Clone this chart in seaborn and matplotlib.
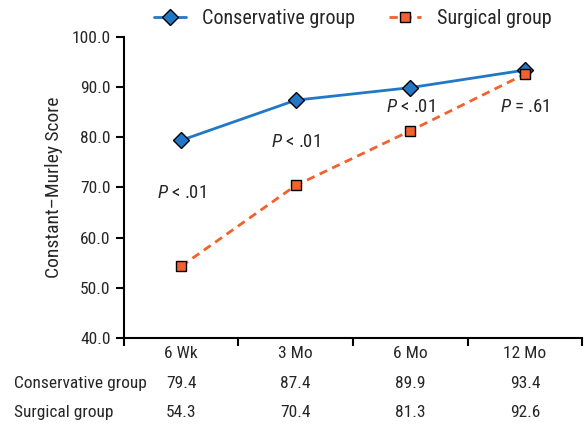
import matplotlib
matplotlib.use("Agg")
import matplotlib.pyplot as plt
import seaborn as sns
import pandas as pd
from matplotlib.lines import Line2D
from matplotlib import font_manager

timepoints = ["6 Wk", "3 Mo", "6 Mo", "12 Mo"]
conservative = [79.4, 87.4, 89.9, 93.4]
surgical = [54.3, 70.4, 81.3, 92.6]
p_labels = ["<.01", "<.01", "<.01", "=.61"]
p_y = [68.9, 79.0, 86.0, 86.0]
yticks = [40.0, 50.0, 60.0, 70.0, 80.0, 90.0, 100.0]

sns.set_style("ticks")
names = {f.name for f in font_manager.fontManager.ttflist}
fam = "DejaVu Sans"
for cand in ["Roboto Condensed", "Archivo Narrow", "PT Sans Narrow", "Asap Condensed"]:
    if cand in names:
        fam = cand
        break
plt.rcParams["font.family"] = [fam, "DejaVu Sans"]
plt.rcParams["mathtext.fontset"] = "custom"
plt.rcParams["mathtext.it"] = fam + ":italic"
plt.rcParams["mathtext.rm"] = fam

blue = "#2277C6"
orange = "#F2612E"

df = pd.DataFrame({
    "pos": list(range(len(timepoints))) * 2,
    "score": conservative + surgical,
    "group": ["Conservative group"] * 4 + ["Surgical group"] * 4,
})

fig = plt.figure(figsize=(5.84, 4.25), dpi=100)
ax = fig.add_axes([0.212, 0.2047, 0.785, 0.7083])

sns.lineplot(data=df[df.group == "Conservative group"], x="pos", y="score", ax=ax,
             color=blue, lw=2, marker="D", markersize=8, markerfacecolor=blue,
             markeredgecolor="black", markeredgewidth=1, legend=False)
sns.lineplot(data=df[df.group == "Surgical group"], x="pos", y="score", ax=ax,
             color=orange, lw=2, linestyle=(0, (3, 2)), marker="s", markersize=7.5,
             markerfacecolor=orange, markeredgecolor="black", markeredgewidth=1, legend=False)

fs = 12.5
ax.set_xlim(-0.5, 3.5)
ax.set_ylim(40, 100)
ax.set_yticks(yticks)
ax.set_yticklabels([f"{v:.1f}" for v in yticks], fontsize=fs)
ax.set_xticks([-0.5, 0.5, 1.5, 2.5, 3.5])
ax.set_xticklabels([])
ax.set_xticks(range(4), minor=True)
ax.set_xticklabels(timepoints, minor=True, fontsize=fs)
ax.tick_params(axis="x", which="minor", length=0, pad=6)
ax.tick_params(axis="both", which="major", length=6, width=1.5, color="black", direction="out")
ax.set_xlabel("")
ax.set_ylabel("Constant\u2013Murley Score", fontsize=14, labelpad=6)
for s in ["top", "right"]:
    ax.spines[s].set_visible(False)
for s in ["left", "bottom"]:
    ax.spines[s].set_linewidth(1.5)
    ax.spines[s].set_color("black")

for i, (lab, yv) in enumerate(zip(p_labels, p_y)):
    ax.text(i, yv, r"$\mathit{P}$" + " " + lab[0] + " " + lab[1:], ha="center", va="center",
            fontsize=13.5)

# table under axis (positions in figure fraction)
row_y = [0.097, 0.030]
rows = [("Conservative group", conservative), ("Surgical group", surgical)]
for (name, vals), ry in zip(rows, row_y):
    fig.text(0.024, ry, name, ha="left", va="center", fontsize=fs)
    for i, v in enumerate(vals):
        xf = ax.transData.transform((i, 0))[0] / fig.bbox.width
        fig.text(xf, ry, f"{v:.1f}", ha="center", va="center", fontsize=fs)

handles = [
    Line2D([], [], color=blue, lw=2, marker="D", markersize=8, markerfacecolor=blue,
           markeredgecolor="black"),
    Line2D([], [], color=orange, lw=2, linestyle=(0, (3, 2)), marker="s", markersize=7.5,
           markerfacecolor=orange, markeredgecolor="black"),
]
fig.legend(handles, ["Conservative group", "Surgical group"], loc="center",
           bbox_to_anchor=(0.604, 0.957), ncol=2, frameon=False, fontsize=14.5,
           handlelength=1.6, columnspacing=1.65, handletextpad=0.8)

fig.savefig("out.png", dpi=100)
